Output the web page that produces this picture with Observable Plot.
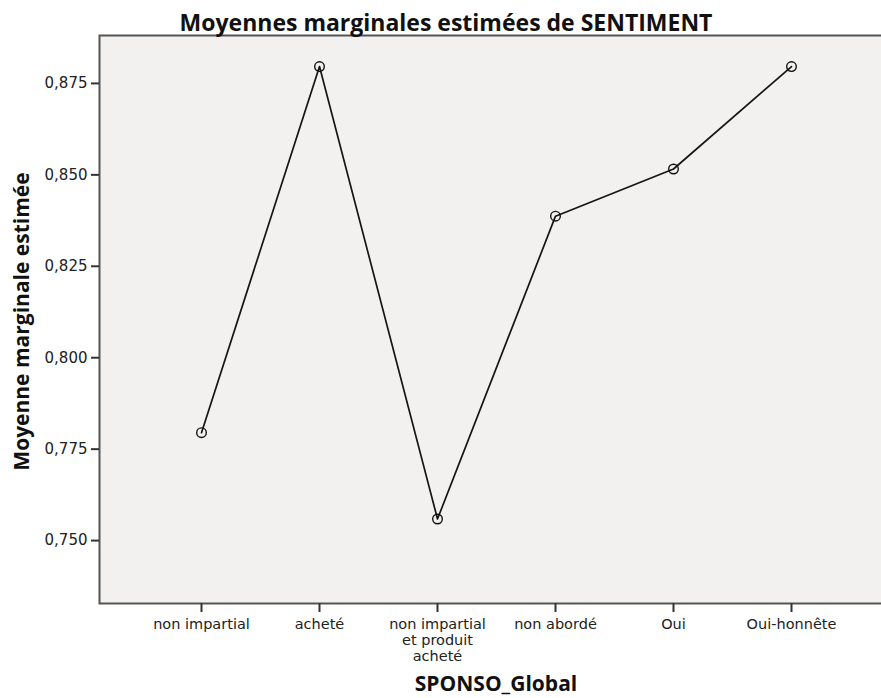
<!DOCTYPE html>
<html>
<head>
<meta charset="utf-8">
<script src="https://cdn.jsdelivr.net/npm/d3@7"></script>
<script src="https://cdn.jsdelivr.net/npm/@observablehq/plot@0.6"></script>
<style>
  html, body { margin: 0; padding: 0; background: white; overflow: hidden; }
</style>
</head>
<body>
<div id="chart"></div>
<script>
const categories = ["non impartial", "acheté", "non impartial et produit acheté", "non abordé", "Oui", "Oui-honnête"];
const tickLabels = ["non impartial", "acheté", "non impartial\net produit\nacheté", "non abordé", "Oui", "Oui-honnête"];
const means = [0.7795, 0.8796, 0.7559, 0.8387, 0.8516, 0.8796];
const yTicks = [0.750, 0.775, 0.800, 0.825, 0.850, 0.875];
const chartTitle = "Moyennes marginales estimées de SENTIMENT";
const xTitle = "SPONSO_Global";
const yTitle = "Moyenne marginale estimée";

const data = categories.map((c, i) => ({cat: c, mean: means[i]}));
const labelOf = d => tickLabels[categories.indexOf(d)];
const titleFont = "Open Sans";

const chart = Plot.plot({
  width: 881,
  height: 698,
  marginTop: 35,
  marginBottom: 95,
  marginLeft: 99,
  marginRight: -3,
  style: {fontFamily: "DejaVu Sans", background: "white", color: "#222"},
  x: {type: "point", domain: categories, range: [199, 793.5], padding: 0},
  y: {domain: [0.7328, 0.8881]},
  marks: [
    Plot.frame({fill: "#f2f1f0", stroke: "#555", strokeWidth: 2}),
    Plot.axisY({ticks: yTicks, tickFormat: d => d.toFixed(3).replace(".", ","), tickSize: 8, tickPadding: 4, fontSize: 15, label: null, strokeWidth: 2, stroke: "#333"}),
    Plot.axisX({tickFormat: labelOf, tickSize: 9, tickPadding: 5, fontSize: 14.5, label: null, lineHeight: 1.1, strokeWidth: 2, stroke: "#333"}),
    Plot.line(data, {x: "cat", y: "mean", stroke: "#151515", strokeWidth: 1.7}),
    Plot.dot(data, {x: "cat", y: "mean", r: 4.8, stroke: "#111", strokeWidth: 1.4, fill: "none"}),
    Plot.text([chartTitle], {frameAnchor: "top", dx: -46, dy: -21, fontSize: 23, fontWeight: "bold", fontFamily: titleFont, fill: "#111"}),
    Plot.text([xTitle], {frameAnchor: "bottom", dx: 4, dy: 87, fontSize: 21, fontWeight: "bold", fontFamily: titleFont, fill: "#111"}),
    Plot.text([yTitle], {frameAnchor: "left", textAnchor: "middle", dx: -77, dy: 2, rotate: -90, fontSize: 21, fontWeight: "bold", fontFamily: titleFont, fill: "#111"})
  ]
});
document.getElementById("chart").appendChild(chart);
</script>
</body>
</html>
